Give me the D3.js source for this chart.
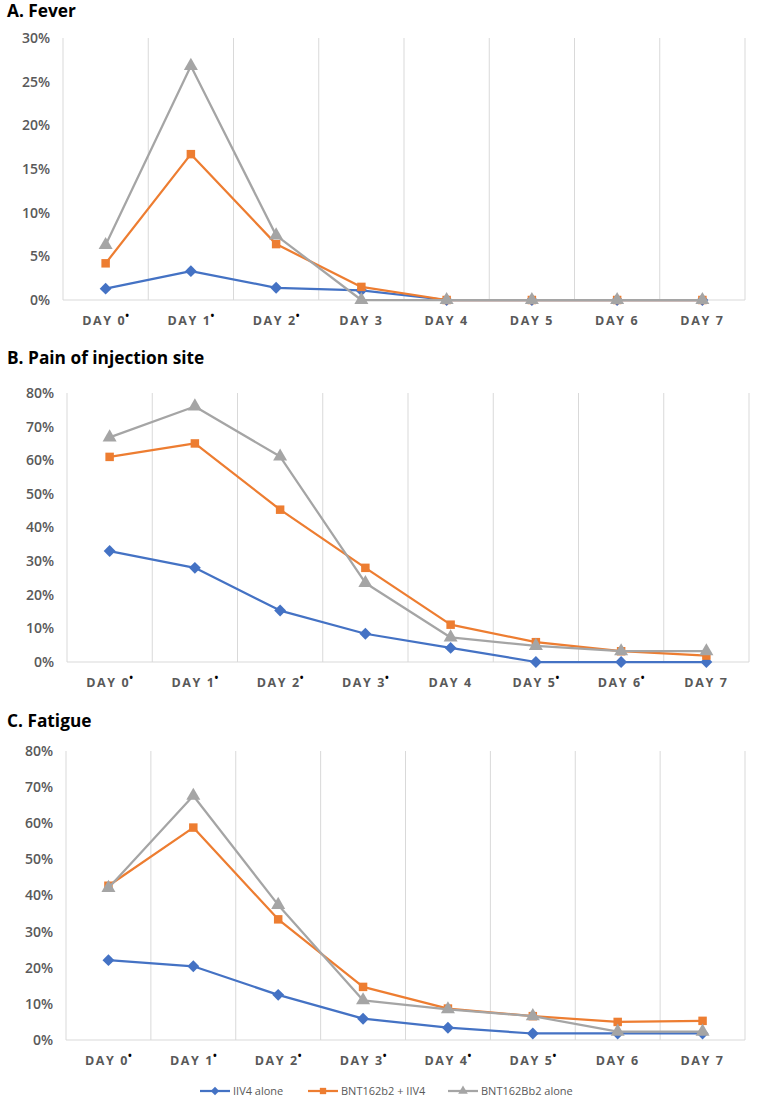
<!DOCTYPE html>
<html>
<head>
<meta charset="utf-8">
<script src="https://cdnjs.cloudflare.com/ajax/libs/d3/7.8.5/d3.min.js"></script>
<style>
  body { margin: 0; background: #fff; }
  svg text { font-family: "Open Sans", "Noto Sans", sans-serif; }
</style>
</head>
<body>
<div id="chart"></div>
<script>
// categories
var days = ["DAY 0", "DAY 1", "DAY 2", "DAY 3", "DAY 4", "DAY 5", "DAY 6", "DAY 7"];
var seriesNames = ["IIV4 alone", "BNT162b2 + IIV4", "BNT162Bb2 alone"];
var seriesColors = ["#4472C4", "#ED7D31", "#A5A5A5"];
var seriesShapes = [d3.symbolDiamond2 || d3.symbolDiamond, d3.symbolSquare, d3.symbolTriangle];

// A. Fever
var feverIIV4  = [0.013, 0.033, 0.014, 0.011, 0, 0, 0, 0];
var feverCombo = [0.042, 0.167, 0.064, 0.015, 0, 0, 0, 0];
var feverBNT   = [0.063, 0.268, 0.074, 0, 0, 0, 0, 0];
var feverStar  = [1, 1, 1, 0, 0, 0, 0, 0];
var feverTicks = [0, 0.05, 0.10, 0.15, 0.20, 0.25, 0.30];

// B. Pain of injection site
var painIIV4  = [0.33, 0.28, 0.153, 0.084, 0.042, 0, 0, 0];
var painCombo = [0.61, 0.65, 0.453, 0.28, 0.111, 0.059, 0.032, 0.019];
var painBNT   = [0.668, 0.76, 0.611, 0.235, 0.073, 0.048, 0.032, 0.032];
var painStar  = [1, 1, 1, 1, 0, 1, 1, 0];
var painTicks = [0, 0.1, 0.2, 0.3, 0.4, 0.5, 0.6, 0.7, 0.8];

// C. Fatigue
var fatigueIIV4  = [0.221, 0.204, 0.125, 0.059, 0.034, 0.018, 0.018, 0.018];
var fatigueCombo = [0.427, 0.588, 0.334, 0.147, 0.087, 0.066, 0.05, 0.053];
var fatigueBNT   = [0.421, 0.676, 0.374, 0.11, 0.085, 0.066, 0.023, 0.023];
var fatigueStar  = [1, 1, 1, 1, 1, 1, 0, 0];
var fatigueTicks = [0, 0.1, 0.2, 0.3, 0.4, 0.5, 0.6, 0.7, 0.8];

var panels = [
  {title: "A. Fever", titleY: 17, top: 38, bottom: 300, left: 63, right: 745,
   series: [feverIIV4, feverCombo, feverBNT], star: feverStar, ticks: feverTicks},
  {title: "B. Pain of injection site", titleY: 364, top: 393, bottom: 662, left: 67, right: 749,
   series: [painIIV4, painCombo, painBNT], star: painStar, ticks: painTicks},
  {title: "C. Fatigue", titleY: 727, top: 751, bottom: 1040, left: 66, right: 745,
   series: [fatigueIIV4, fatigueCombo, fatigueBNT], star: fatigueStar, ticks: fatigueTicks}
];

var svg = d3.select('#chart').append('svg')
  .attr('width', 759)
  .attr('height', 1110);

panels.forEach(function(p) {
  var x = d3.scaleBand().domain(days).range([p.left, p.right]);
  var y = d3.scaleLinear()
    .domain([0, p.ticks[p.ticks.length - 1]])
    .range([p.bottom, p.top]);

  svg.append('text')
    .attr('x', 7).attr('y', p.titleY)
    .attr('font-size', 17.3).attr('font-weight', 700)
    .attr('fill', '#000')
    .text(p.title);

  // vertical gridlines at category edges
  var edges = days.map(function(d) { return x(d); }).concat([p.right]);
  svg.append('g').selectAll('line')
    .data(edges)
    .enter().append('line')
    .attr('x1', function(d) { return d; }).attr('x2', function(d) { return d; })
    .attr('y1', p.top).attr('y2', p.bottom)
    .attr('stroke', '#D9D9D9').attr('stroke-width', 1);

  // baseline
  svg.append('line')
    .attr('x1', p.left).attr('x2', p.right)
    .attr('y1', p.bottom).attr('y2', p.bottom)
    .attr('stroke', '#D9D9D9').attr('stroke-width', 1);

  // y axis
  var yAxis = d3.axisLeft(y).tickValues(p.ticks).tickFormat(d3.format('.0%')).tickSize(0).tickPadding(13);
  var yg = svg.append('g').attr('transform', 'translate(' + p.left + ',0)').call(yAxis);
  yg.select('.domain').remove();
  yg.selectAll('text')
    .attr('font-size', 14).attr('font-weight', 600)
    .attr('fill', '#595959')
    .style('font-family', '"Open Sans", sans-serif');

  // x axis labels
  var xl = svg.append('g').selectAll('text')
    .data(days)
    .enter().append('text')
    .attr('x', function(d) { return x(d) + x.bandwidth() / 2; })
    .attr('y', p.bottom + 25)
    .attr('text-anchor', 'middle')
    .attr('font-size', 12.5).attr('font-weight', 700)
    .attr('letter-spacing', 1.6)
    .attr('fill', '#595959');
  xl.append('tspan').text(function(d) { return d; });
  xl.append('tspan')
    .attr('dy', -6).attr('dx', -1)
    .attr('font-size', 10).attr('fill', '#000')
    .attr('letter-spacing', 0)
    .text(function(d, i) { return p.star[i] ? '\u2022' : ''; });

  // lines and markers
  var line = d3.line()
    .x(function(d, i) { return x(days[i]) + x.bandwidth() / 2; })
    .y(function(d) { return y(d); });

  p.series.forEach(function(vals, si) {
    svg.append('path')
      .datum(vals)
      .attr('fill', 'none')
      .attr('stroke', seriesColors[si])
      .attr('stroke-width', 2.25)
      .attr('stroke-linejoin', 'round')
      .attr('d', line);
    var sizes = [90, 72, 85];
    svg.append('g').selectAll('path')
      .data(vals)
      .enter().append('path')
      .attr('transform', function(d, i) {
        return 'translate(' + (x(days[i]) + x.bandwidth() / 2) + ',' + y(d) + ')';
      })
      .attr('d', d3.symbol().type(seriesShapes[si]).size(sizes[si]))
      .attr('fill', seriesColors[si]);
  });
});

// legend
var legendX = [200, 308, 448];
var lg = svg.append('g').selectAll('g')
  .data(seriesNames)
  .enter().append('g')
  .attr('transform', function(d, i) { return 'translate(' + legendX[i] + ',1091)'; });
lg.append('line')
  .attr('x1', 0).attr('x2', 30).attr('y1', 0).attr('y2', 0)
  .attr('stroke', function(d, i) { return seriesColors[i]; })
  .attr('stroke-width', 2.25);
lg.append('path')
  .attr('transform', 'translate(15,0)')
  .attr('d', function(d, i) { return d3.symbol().type(seriesShapes[i]).size([45, 40, 40][i])(); })
  .attr('fill', function(d, i) { return seriesColors[i]; });
lg.append('text')
  .attr('x', 33).attr('y', 4)
  .attr('font-size', 11)
  .attr('fill', '#595959')
  .text(function(d) { return d; });
</script>
</body>
</html>
